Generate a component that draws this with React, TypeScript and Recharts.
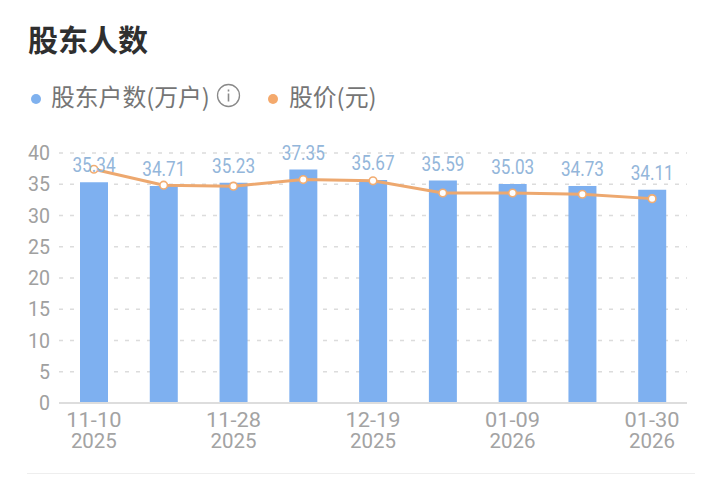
import React from "react";
import { ComposedChart, Bar, Line, XAxis, YAxis, CartesianGrid, LabelList } from "recharts";

const dates = ["11-10", "11-19", "11-28", "12-10", "12-19", "12-31", "01-09", "01-20", "01-30"];
const years = ["2025", "2025", "2025", "2025", "2025", "2025", "2026", "2026", "2026"];
const holders = [35.34, 34.71, 35.23, 37.35, 35.67, 35.59, 35.03, 34.73, 34.11];
const price = [37.4, 34.85, 34.7, 35.75, 35.55, 33.6, 33.6, 33.4, 32.7];
const yTicks = [0, 5, 10, 15, 20, 25, 30, 35, 40];
const data = dates.map((d, i) => ({ date: d, year: years[i], holders: holders[i], price: price[i] }));

const NUM = "Roboto, sans-serif";
const CJK = "'Noto Sans CJK SC', sans-serif";

const XTick = (props: any) => {
  const { x, y, payload, index } = props;
  const idx = payload.index ?? index;
  return (
    <text textAnchor="middle" fill="#a3a3a3" fontSize={21} fontFamily={NUM}>
      <tspan x={x} y={y + 16} textLength={55} lengthAdjust="spacingAndGlyphs">{payload.value}</tspan>
      <tspan x={x} y={y + 37} textLength={46} lengthAdjust="spacingAndGlyphs">{years[dates.indexOf(payload.value)] ?? years[idx]}</tspan>
    </text>
  );
};

const YTick = (props: any) => {
  const { x, y, payload } = props;
  return (
    <text x={x} y={y + 7} textAnchor="end" fill="#a0a0a0" fontSize={21} fontFamily={NUM}
      textLength={String(payload.value).length * 11} lengthAdjust="spacingAndGlyphs">{payload.value}</text>
  );
};

const BarLabel = (props: any) => {
  const { x, y, width, value } = props;
  return (
    <text x={x + width / 2} y={y - 10} textAnchor="middle" fill="#93b6da" fontSize={20} fontFamily={NUM}
      textLength={43} lengthAdjust="spacingAndGlyphs">{value}</text>
  );
};

const Dot = ({ cx, cy }: any) => (
  <circle cx={cx} cy={cy} r={3.8} fill="#fff" stroke="#f2ad72" strokeWidth={1.6} />
);

export default function App() {
  return (
    <div style={{ position: "absolute", left: 0, top: 0, width: 720, height: 477, background: "#fff", overflow: "hidden" }}>
      <div style={{ position: "absolute", left: 28, top: 18, fontFamily: CJK, fontWeight: 700, fontSize: 30, lineHeight: "40px", color: "#2f2f2f" }}>股东人数</div>
      <div style={{ position: "absolute", left: 31, top: 94, width: 10, height: 10, borderRadius: 5, background: "#7fb1ee" }} />
      <div style={{ position: "absolute", left: 51, top: 80, fontFamily: CJK, fontSize: 23.8, lineHeight: "32px", color: "#757575", whiteSpace: "nowrap" }}>股东户数(万户)</div>
      <svg style={{ position: "absolute", left: 216, top: 83 }} width="25" height="25" viewBox="0 0 25 25">
        <circle cx="12.5" cy="12.5" r="11" fill="none" stroke="#8a8a8a" strokeWidth="1.3" />
        <rect x="11.7" y="10.5" width="1.6" height="8" fill="#8a8a8a" />
        <rect x="11.7" y="6.5" width="1.6" height="2" fill="#8a8a8a" />
      </svg>
      <div style={{ position: "absolute", left: 268, top: 94, width: 10, height: 10, borderRadius: 5, background: "#f4a96c" }} />
      <div style={{ position: "absolute", left: 289, top: 80, fontFamily: CJK, fontSize: 23.8, lineHeight: "32px", color: "#757575", whiteSpace: "nowrap" }}>股价(元)</div>
      <div style={{ position: "absolute", left: 27, top: 473, width: 668, height: 1, background: "#eeeeee" }} />
      <div style={{ position: "absolute", left: 0, top: 0 }}>
        <ComposedChart width={720} height={477} data={data} margin={{ left: 9, top: 153, right: 33, bottom: 0 }} barSize={28}>
          <CartesianGrid vertical={false} stroke="#dcdcdc" strokeDasharray="4 7" strokeWidth={1.5} />
          <XAxis dataKey="date" interval={1} height={74} tick={<XTick />} tickLine={false} axisLine={{ stroke: "#dddddd", strokeWidth: 2 }} />
          <YAxis width={50} domain={[0, 40]} ticks={yTicks} tickLine={false} axisLine={false} tickMargin={3} tick={<YTick />} />
          <Bar dataKey="holders" fill="#7eb0f0" isAnimationActive={false}>
            <LabelList dataKey="holders" content={<BarLabel />} />
          </Bar>
          <Line dataKey="price" stroke="#eda86f" strokeWidth={3} dot={<Dot />} activeDot={false} type="linear" isAnimationActive={false} />
        </ComposedChart>
      </div>
    </div>
  );
}
